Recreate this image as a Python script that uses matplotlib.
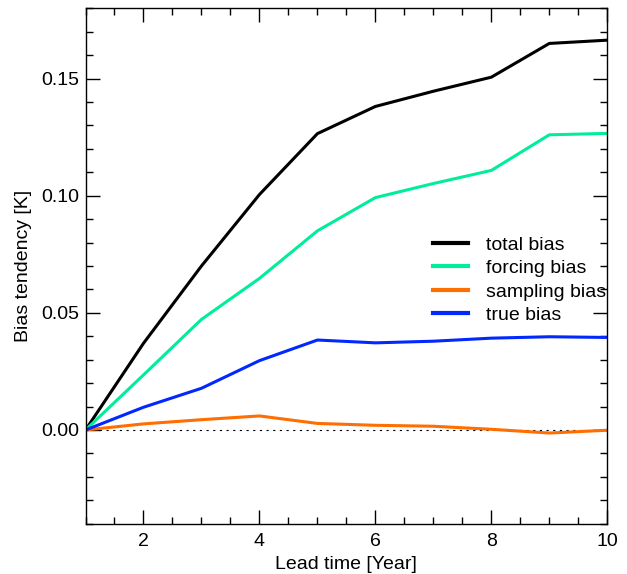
import matplotlib
matplotlib.use("Agg")
import matplotlib.pyplot as plt
from matplotlib.ticker import MultipleLocator

lead = [1, 2, 3, 4, 5, 6, 7, 8, 9, 10]
total_bias = [0.0, 0.037, 0.070, 0.1005, 0.1265, 0.1381, 0.1446, 0.1506, 0.1650, 0.1664]
forcing_bias = [0.0, 0.0235, 0.0472, 0.0647, 0.0850, 0.0992, 0.1052, 0.1108, 0.1260, 0.1266]
sampling_bias = [0.0, 0.0026, 0.0044, 0.0060, 0.0028, 0.0020, 0.0016, 0.0003, -0.0013, -0.0001]
true_bias = [0.0, 0.0097, 0.0178, 0.0296, 0.0384, 0.0372, 0.0379, 0.0392, 0.0398, 0.0395]

labels = ["total bias", "forcing bias", "sampling bias", "true bias"]
colors = ["#000000", "#00EE99", "#FF6E00", "#0028FF"]

plt.rcParams['font.family'] = ['Liberation Sans', 'DejaVu Sans']
FS = 14

fig = plt.figure(figsize=(6.27, 5.74), dpi=100)
ax = fig.add_axes([85.5/627, 1 - 523.7/574, (607.3-85.5)/627, (523.7-8.3)/574])

ax.axhline(0, color='black', lw=0.8, ls=(0, (2, 4)))
for y, lab, c in zip([total_bias, forcing_bias, sampling_bias, true_bias], labels, colors):
    ax.plot(lead, y, color=c, lw=2.2, label=lab)

ax.set_xlim(1, 10)
ax.set_ylim(-0.04, 0.18)
ax.xaxis.set_major_locator(MultipleLocator(2))
ax.xaxis.set_minor_locator(MultipleLocator(0.5))
ax.yaxis.set_major_locator(MultipleLocator(0.05))
ax.yaxis.set_minor_locator(MultipleLocator(0.01))
ax.yaxis.set_major_formatter(matplotlib.ticker.FormatStrFormatter('%.2f'))
ax.tick_params(which='both', direction='in', top=True, right=True, labelsize=FS, width=1)
ax.tick_params(which='major', length=10)
ax.tick_params(which='minor', length=5)
ax.tick_params(axis='y', which='major', pad=4.5)
ax.tick_params(axis='x', which='major', pad=7)
for s in ax.spines.values():
    s.set_linewidth(1)

ax.set_xlabel("Lead time [Year]", fontsize=FS, labelpad=4)
ax.set_ylabel("Bias tendency [K]", fontsize=FS, labelpad=7)

leg = ax.legend(loc='upper left', bbox_to_anchor=(0.666, 0.558), frameon=False,
                fontsize=FS, handlelength=1.8, handletextpad=0.95, labelspacing=0.3,
                borderaxespad=0, borderpad=0)
for l in leg.get_lines():
    l.set_linewidth(3)

fig.savefig("out.png", dpi=100)
